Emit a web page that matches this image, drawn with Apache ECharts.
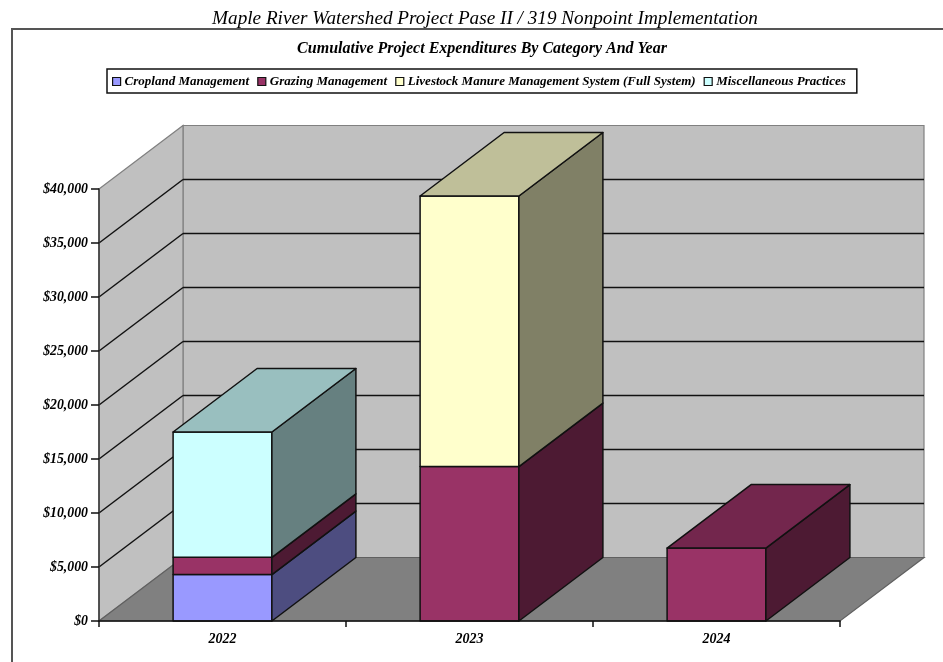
<!DOCTYPE html>
<html>
<head>
<meta charset="utf-8">
<style>html,body{margin:0;padding:0;background:#fff}#chart{width:943px;height:662px}</style>
<script src="https://cdn.jsdelivr.net/npm/echarts@6/dist/echarts.min.js"></script>
</head>
<body>
<div id="chart"></div>
<script>
// Project years and spending per category, in dollars
const years = ['2022', '2023', '2024'];
const cropland = [4300, 0, 0];
const grazing = [1600, 14300, 6750];
const livestock = [0, 25050, 0];
const miscellaneous = [11600, 0, 0];
const yTicks = [0, 5000, 10000, 15000, 20000, 25000, 30000, 35000, 40000];

const categoryNames = [
  'Cropland Management',
  'Grazing Management',
  'Livestock Manure Management System (Full System)',
  'Miscellaneous Practices'
];
const categoryValues = [cropland, grazing, livestock, miscellaneous];
const categoryColors = ['#9999FF', '#993366', '#FFFFCC', '#CCFFFF'];

// Oblique projection used for the depth of the box and the bars
const DEPTH_X = 84;
const DEPTH_Y = 63.5;
const BAR_RATIO = 0.4;
const FONT = '"Liberation Serif", "Times New Roman", serif';

// Darken a #RRGGBB colour for the shaded faces
function shade(hex, k) {
  const n = parseInt(hex.slice(1), 16);
  const c = [n >> 16, (n >> 8) & 255, n & 255].map(v => Math.round(v * k));
  return 'rgb(' + c.join(',') + ')';
}

// Stack the categories for each year: [year index, base, top, is uppermost]
function stackRows(seriesIndex) {
  return years.map((_, i) => {
    let base = 0;
    for (let s = 0; s < seriesIndex; s++) base += categoryValues[s][i];
    const top = base + categoryValues[seriesIndex][i];
    let above = 0;
    for (let s = seriesIndex + 1; s < categoryValues.length; s++) above += categoryValues[s][i];
    return [i, base, top, above === 0 ? 1 : 0];
  }).filter(r => r[2] > r[1]);
}

function renderBox(params, api) {
  const rect = params.coordSys;
  const v = api.value(1);
  const y = api.coord([0, v])[1];
  const x0 = rect.x, x1 = rect.x + rect.width;
  const children = [];
  const poly = (points, fill, stroke) => ({
    type: 'polygon',
    shape: { points },
    style: { fill, stroke, lineWidth: 1.2 }
  });
  const line = (a, b) => ({
    type: 'line',
    shape: { x1: a[0], y1: a[1], x2: b[0], y2: b[1] },
    style: { stroke: '#111', lineWidth: 1.5 }
  });
  if (v === 0) {
    const yTop = rect.y;
    // back wall, side wall and floor
    children.push(poly([[x0 + DEPTH_X, yTop - DEPTH_Y], [x1 + DEPTH_X, yTop - DEPTH_Y], [x1 + DEPTH_X, y - DEPTH_Y], [x0 + DEPTH_X, y - DEPTH_Y]], '#C0C0C0', '#808080'));
    children.push(poly([[x0, yTop], [x0 + DEPTH_X, yTop - DEPTH_Y], [x0 + DEPTH_X, y - DEPTH_Y], [x0, y]], '#C0C0C0', '#808080'));
    children.push(poly([[x0, y], [x0 + DEPTH_X, y - DEPTH_Y], [x1 + DEPTH_X, y - DEPTH_Y], [x1, y]], '#808080', '#606060'));
  } else if (v < yTicks[yTicks.length - 1]) {
    children.push(line([x0, y], [x0 + DEPTH_X, y - DEPTH_Y]));
    children.push(line([x0 + DEPTH_X, y - DEPTH_Y], [x1 + DEPTH_X, y - DEPTH_Y]));
  }
  return { type: 'group', children };
}

function renderSegment(color) {
  return function (params, api) {
    const band = api.size([1, 0])[0];
    const w = band * BAR_RATIO;
    const cx = api.coord([api.value(0), 0])[0];
    const yBase = api.coord([api.value(0), api.value(1)])[1];
    const yTop = api.coord([api.value(0), api.value(2)])[1];
    const l = cx - w / 2, r = cx + w / 2;
    const edge = { stroke: '#111', lineWidth: 1.5, lineJoin: 'round' };
    const children = [
      { type: 'polygon', shape: { points: [[l, yTop], [r, yTop], [r, yBase], [l, yBase]] },
        style: Object.assign({ fill: color }, edge) },
      { type: 'polygon', shape: { points: [[r, yTop], [r + DEPTH_X, yTop - DEPTH_Y], [r + DEPTH_X, yBase - DEPTH_Y], [r, yBase]] },
        style: Object.assign({ fill: shade(color, 0.5) }, edge) }
    ];
    if (api.value(3)) {
      children.push({ type: 'polygon', shape: { points: [[l, yTop], [r, yTop], [r + DEPTH_X, yTop - DEPTH_Y], [l + DEPTH_X, yTop - DEPTH_Y]] },
        style: Object.assign({ fill: shade(color, 0.75) }, edge) });
    }
    return { type: 'group', children };
  };
}

const chart = echarts.init(document.getElementById('chart'), null, { renderer: 'canvas' });
chart.setOption({
  animation: false,
  backgroundColor: '#fff',
  title: [
    { text: 'Maple River Watershed Project Pase II / 319 Nonpoint Implementation',
      left: 480, top: 4, textAlign: 'center',
      textStyle: { fontFamily: FONT, fontStyle: 'italic', fontWeight: 'normal', fontSize: 19.2, color: '#000' } },
    { text: 'Cumulative Project Expenditures By Category And Year',
      left: 477, top: 36, textAlign: 'center',
      textStyle: { fontFamily: FONT, fontStyle: 'italic', fontWeight: 'bold', fontSize: 16, color: '#000' } }
  ],
  legend: {
    left: 107, top: 69,
    data: categoryNames,
    orient: 'horizontal',
    icon: 'rect',
    itemWidth: 8, itemHeight: 8, itemGap: 8,
    padding: [6, 11, 5, 5],
    borderColor: '#111', borderWidth: 1.5,
    backgroundColor: '#fff',
    selectedMode: false,
    itemStyle: { borderColor: '#111', borderWidth: 1.2 },
    textStyle: { fontFamily: FONT, fontStyle: 'italic', fontWeight: 'bold', fontSize: 13, color: '#000', padding: [0, 0, 0, -1] }
  },
  grid: { left: 99, right: 103, top: 189, bottom: 41 },
  xAxis: {
    type: 'category', data: years, z: 10,
    axisLine: { lineStyle: { color: '#111', width: 1.5 } },
    axisTick: { show: true, alignWithLabel: false, length: 6, lineStyle: { color: '#111', width: 1.5 } },
    axisLabel: { margin: 11, fontFamily: FONT, fontStyle: 'italic', fontWeight: 'bold', fontSize: 14, color: '#000' }
  },
  yAxis: {
    type: 'value', min: 0, max: 40000, interval: 5000, z: 10,
    splitLine: { show: false },
    axisLine: { show: true, lineStyle: { color: '#333', width: 1.5 } },
    axisTick: { show: true, length: 8, lineStyle: { color: '#111', width: 1.5 } },
    axisLabel: {
      margin: 11, fontFamily: FONT, fontStyle: 'italic', fontWeight: 'bold', fontSize: 13.8, color: '#000',
      formatter: v => '$' + v.toLocaleString('en-US')
    }
  },
  graphic: [{
    type: 'rect', silent: true, z: -1,
    shape: { x: 12, y: 29, width: 1000, height: 1000 },
    style: { fill: 'none', stroke: '#555', lineWidth: 2 }
  }],
  series: [
    {
      type: 'custom', name: 'box', z: 1, silent: true,
      data: yTicks.map(v => [0, v]),
      encode: { x: 0, y: 1 },
      renderItem: renderBox
    }
  ].concat(categoryNames.map((name, s) => ({
    type: 'custom', name, z: 3 + s,
    itemStyle: { color: categoryColors[s] },
    data: stackRows(s),
    encode: { x: 0, y: [1, 2] },
    renderItem: renderSegment(categoryColors[s])
  })))
});
</script>
</body>
</html>
